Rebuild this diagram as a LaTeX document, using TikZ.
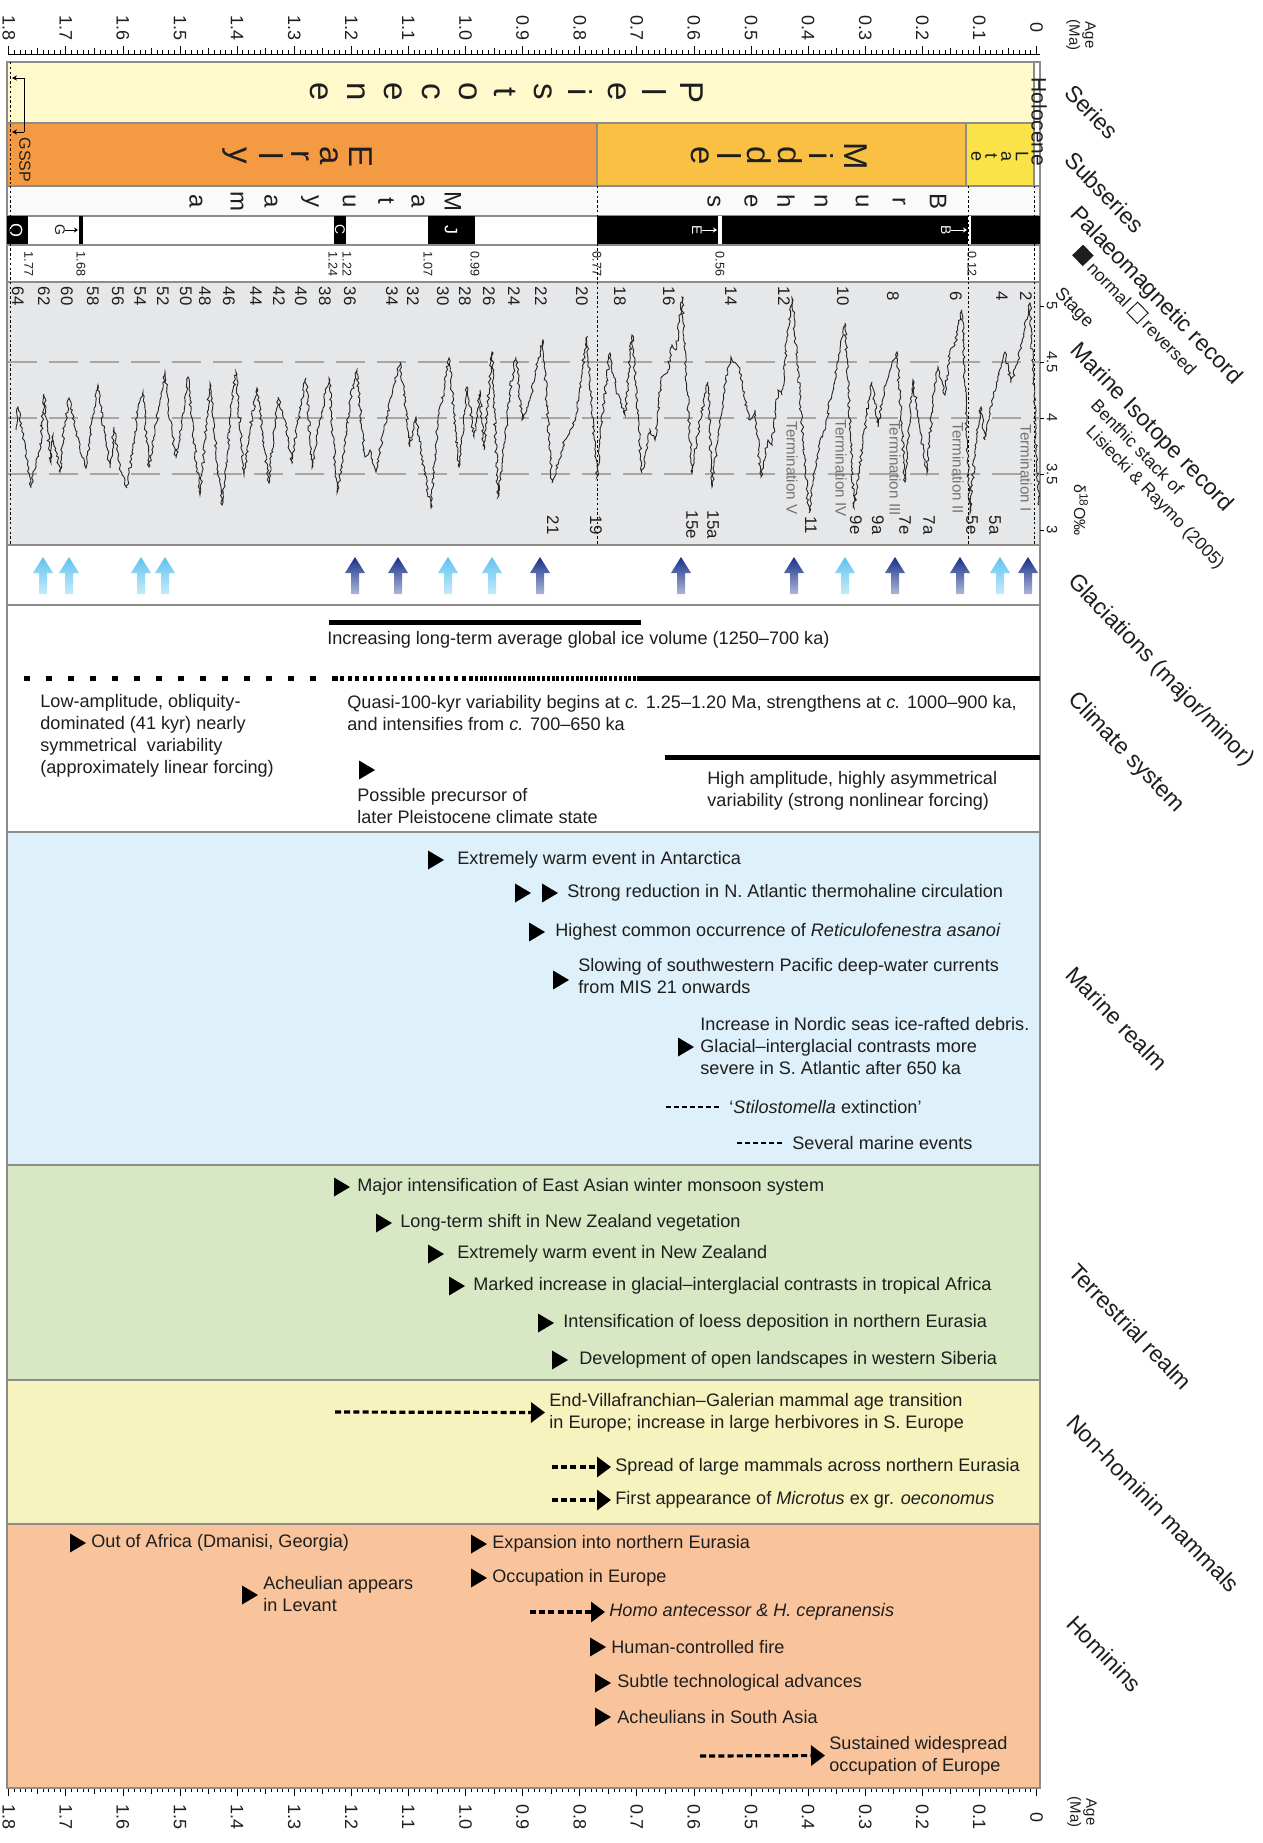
\documentclass[tikz,border=0pt]{standalone}
\usepackage{fontspec}
\setmainfont{Liberation Sans}
\usetikzlibrary{arrows.meta,decorations.pathmorphing}

\definecolor{seriesc}{RGB}{255,249,204}
\definecolor{earlyc}{RGB}{243,154,66}
\definecolor{middlec}{RGB}{250,192,68}
\definecolor{latec}{RGB}{250,226,72}
\definecolor{curvebg}{RGB}{230,231,233}
\definecolor{marinec}{RGB}{222,240,249}
\definecolor{terrc}{RGB}{216,232,196}
\definecolor{mammc}{RGB}{246,243,190}
\definecolor{homc}{RGB}{249,196,156}
\definecolor{glacdark}{RGB}{22,48,140}
\definecolor{glaclight}{RGB}{95,195,240}
\definecolor{framec}{RGB}{140,140,140}
\definecolor{txt}{RGB}{30,30,30}

\begin{document}
\begin{tikzpicture}[x=0.5pt,y=-0.5pt,
  evt/.style={font=\fontsize{9.05}{11}\selectfont, anchor=west, inner sep=0pt, align=left, text=txt},
  band/.style={draw=framec, line width=0.8pt},
  hdr/.style={font=\fontsize{11.5}{13}\selectfont, rotate=-46, anchor=west, inner sep=0pt, text=txt},
  subhdr/.style={font=\fontsize{8.8}{10}\selectfont, rotate=-46, anchor=west, inner sep=0pt, text=txt},
  agelab/.style={font=\fontsize{9}{10}\selectfont, rotate=-90, inner sep=0pt, text=txt},
  stagelab/.style={font=\fontsize{8.4}{9}\selectfont, rotate=-90, inner sep=0pt, text=txt},
  pmlab/.style={font=\fontsize{6.3}{7}\selectfont, rotate=-90, inner sep=0pt, text=txt},
  bigletter/.style={font=\fontsize{16.5}{17}\selectfont, rotate=-90, inner sep=0pt, text=txt},
  midletter/.style={font=\fontsize{12}{13}\selectfont, rotate=-90, inner sep=0pt, text=txt},
  vline/.style={line width=0.4pt, dash pattern=on 1.2pt off 1.2pt},
  dasharrow/.style={line width=1.6pt, dash pattern=on 3pt off 1.6pt, -{Triangle[length=7pt,width=10pt]}, shorten >=2pt},
  dashline/.style={line width=1.3pt, dash pattern=on 2.6pt off 1.4pt, shorten >=4pt},
  pics/mk/.style={code={\fill[black] (0,-9.5) -- (16,0) -- (0,9.5) -- cycle;}},
  pics/glac/.style={code={\shade[top color=#1, bottom color=#1!35] (0,0) -- (10,16) -- (4,16) -- (4,37) -- (-4,37) -- (-4,16) -- (-10,16) -- cycle;}}
]
\useasboundingbox (0,0) rectangle (1263,1843);
\fill[white] (0,0) rectangle (1263,1843);

% ---------- age scales (top and bottom) ----------
\draw[line width=0.5pt] (8,54) -- (1040,54);
\foreach \i in {0,...,180} {
  \pgfmathsetmacro\xx{1036.5-5.71*\i}
  \pgfmathtruncatemacro\m{mod(\i,10)}
  \pgfmathtruncatemacro\h{mod(\i,5)}
  \ifnum\m=0 \def\tl{8}\else\ifnum\h=0 \def\tl{6}\else\def\tl{4}\fi\fi
  \draw[line width=0.4pt] (\xx,54) -- (\xx,54-\tl);
  \draw[line width=0.4pt] (\xx,1788) -- (\xx,1788+\tl);
}
\foreach \k/\t in {0/0,1/0.1,2/0.2,3/0.3,4/0.4,5/0.5,6/0.6,7/0.7,8/0.8,9/0.9,10/1.0,11/1.1,12/1.2,13/1.3,14/1.4,15/1.5,16/1.6,17/1.7,18/1.8} {
  \pgfmathsetmacro\xx{1036.5-57.1*\k}
  \node[agelab] (ta\k) at (\xx,28) {\t};
  \node[agelab] (ba\k) at (\xx,1817) {\t};
}
\node[font=\fontsize{7.5}{8}\selectfont, rotate=-90, align=center, inner sep=0pt, text=txt] (agetop) at (1081,35) {Age\\(Ma)};
\node[font=\fontsize{7.5}{8}\selectfont, rotate=-90, align=center, inner sep=0pt, text=txt] (agebot) at (1082,1812) {Age\\(Ma)};

% ---------- series and subseries ----------
\filldraw[band, fill=seriesc] (7,62) rectangle (1034,123);
\filldraw[band, fill=earlyc] (7,123) rectangle (597,186);
\filldraw[band, fill=middlec] (597,123) rectangle (966,186);
\filldraw[band, fill=latec] (966,123) rectangle (1034,186);
\filldraw[band, fill=white] (1034,62) rectangle (1040,186);
\node[font=\fontsize{10.5}{11}\selectfont, rotate=-90, inner sep=0pt, text=txt] (holo) at (1039,122) {Holocene};

\foreach \c [count=\n from 0] in {P,l,e,i,s,t,o,c,e,n,e} {
  \node[bigletter] (pl\n) at (692-37.3*\n,92) {\c};
}
\foreach \c/\xx [count=\n] in {E/361,a/329,r/300,l/271,y/235} {
  \node[bigletter] (ea\n) at (\xx,156) {\c};
}
\foreach \c/\xx [count=\n] in {M/856,i/821,d/790,d/759,l/729,e/700} {
  \node[bigletter] (mi\n) at (\xx,156) {\c};
}
\foreach \c/\xx [count=\n] in {L/1022,a/1006,t/991,e/976} {
  \node[font=\fontsize{9}{10}\selectfont, rotate=-90, inner sep=0pt, text=txt] (la\n) at (\xx,156) {\c};
}
% GSSP marker
\draw[line width=0.4pt, -{Stealth[length=2.5pt,width=2.5pt]}] (24,78) -- (12,78);
\draw[line width=0.4pt] (24,78) -- (24,132);
\draw[line width=0.4pt, -{Stealth[length=2.5pt,width=2.5pt]}] (24,132) -- (12,132);
\node[font=\fontsize{8}{9}\selectfont, rotate=-90, inner sep=0pt, text=txt] (gssp) at (25,160) {GSSP};

% ---------- chrons ----------
\filldraw[band, fill=black!2] (7,186) rectangle (1040,216);
\foreach \c/\xx [count=\n] in {M/453,a/418,t/386,u/349,y/310,a/271,m/237,a/196} {
  \node[midletter] (ma\n) at (\xx,201) {\c};
}
\foreach \c/\xx [count=\n] in {B/938,r/899,u/862,n/821,h/786,e/751,s/714} {
  \node[midletter] (br\n) at (\xx,201) {\c};
}

% ---------- palaeomagnetic record ----------
\filldraw[band, fill=white] (7,216) rectangle (1040,245);
\fill[black] (7,216) rectangle (28,245);
\fill[black] (79,216) rectangle (83,245);
\fill[black] (334,216) rectangle (346,245);
\fill[black] (428,216) rectangle (475,245);
\fill[black] (597,216) rectangle (1040,245);
\fill[white] (718,216) rectangle (722,245);
\fill[white] (968,216) rectangle (971,245);
\node[font=\fontsize{9}{10}\selectfont, rotate=-90, inner sep=0pt, text=white] (chO) at (16,230) {O};
\node[font=\fontsize{7}{8}\selectfont, rotate=-90, inner sep=0pt, text=white] (chC) at (340,230) {C};
\node[font=\fontsize{9}{10}\selectfont, rotate=-90, inner sep=0pt, text=white] (chJ) at (451,230) {J};
\node[font=\fontsize{7}{8}\selectfont, rotate=-90, inner sep=0pt, text=txt] (chG) at (60,230) {G};
\node[font=\fontsize{7}{8}\selectfont, rotate=-90, inner sep=0pt, text=white] (chE) at (697,230) {E};
\node[font=\fontsize{7}{8}\selectfont, rotate=-90, inner sep=0pt, text=white] (chB) at (946,230) {B};
\coordinate (gG) at (78,230);
\coordinate (gE) at (717,230);
\coordinate (gB) at (967,230);
\draw[line width=0.4pt, -{Stealth[length=2pt,width=2.5pt]}] (chG) ++(5,0) -- (gG);
\draw[white, line width=0.4pt, -{Stealth[length=2pt,width=2.5pt]}] (chE) ++(5,0) -- (gE);
\draw[white, line width=0.4pt, -{Stealth[length=2pt,width=2.5pt]}] (chB) ++(5,0) -- (gB);

\draw[band] (7,245) rectangle (1040,282);
\foreach \t/\xx [count=\n] in {1.77/28.6,1.68/81,1.24/333,1.22/347,1.07/428,0.99/475,0.77/597,0.56/720,0.12/972} {
  \node[pmlab] (pm\n) at (\xx,264) {\t};
}

% ---------- marine isotope record ----------
\filldraw[band, fill=curvebg] (7,282) rectangle (1040,545);
\foreach \yy in {362,418,474} {
  \draw[black!35, line width=1.2pt, dash pattern=on 14.25pt off 6.25pt] (8,\yy) -- (1040,\yy);
}
\foreach \v/\yy in {5/306,4.5/362,4/418,3.5/474,3/530} {
  \draw[line width=0.4pt] (1040,\yy) -- (1044,\yy);
  \node[font=\fontsize{7.5}{8}\selectfont, rotate=-90, inner sep=0pt, text=txt] (iso\v) at (1052,\yy) {\v};
}
\node[font=\fontsize{8}{9}\selectfont, rotate=-90, inner sep=0pt, text=txt] (delta) at (1081,510) {δ\textsuperscript{18}O‰};

\foreach \xx in {10,597,968,1034} {
  \draw[vline] (\xx,186) -- (\xx,545);
}
\draw[vline] (10,62) -- (10,186);

\foreach \t/\xx [count=\n] in {64/18,62/44,60/67,58/93,56/118,54/140,52/163,50/186,48/205,46/229,44/256,42/279,40/301,38/325,36/350,34/392,32/413,30/443,28/465,26/489,24/514,22/541,20/582,18/620,16/669,14/731,12/784,10/843,8/893,6/956,4/1002,2/1026} {
  \node[stagelab] (st\n) at (\xx,296) {\t};
}
\foreach \t/\xx [count=\n] in {21/553,19/596,15e/692,15a/713,11/811,9e/856,9a/878,7e/905,7a/929,5e/972,5a/995} {
  \node[stagelab] (sb\n) at (\xx,525) {\t};
}
\foreach \t/\xx [count=\n] in {V/792,IV/841,III/895,II/958,I/1026} {
  \node[font=\fontsize{7.6}{8}\selectfont, rotate=-90, inner sep=0pt, text=black!55] (term\n) at (\xx,468) {Termination \t};
}

% benthic oxygen-isotope stack
\pgfmathsetseed{11}
\draw[line width=0.45pt, black!85, decorate, decoration={random steps, segment length=1.3pt, amplitude=0.7pt}]
  plot coordinates {(16,430) (18,407) (24,440) (31,488) (36,460) (40,450) (44,394) (51,463) (53,435) (60,472) (64,430) (69,398) (74,420) (80,450) (86,468) (92,420) (98,385) (104,430) (110,468) (114,427) (120,470) (127,488) (134,440) (138,410) (143,392) (149,467) (155,430) (160,400) (165,372) (170,420) (176,458) (182,420) (188,377) (194,440) (200,495) (205,440) (210,383) (216,450) (222,505) (228,450) (232,400) (236,372) (244,475) (250,430) (257,388) (262,430) (269,483) (274,430) (278,397) (285,420) (292,463) (298,420) (306,378) (312,468) (320,420) (329,378) (337,493) (344,450) (350,400) (357,370) (362,430) (365,457) (370,450) (376,472) (384,430) (392,395) (400,362) (405,400) (410,447) (416,417) (424,470) (431,508) (438,420) (444,390) (449,358) (459,467) (467,387) (474,437) (480,390) (484,450) (492,352) (498,497) (505,440) (510,390) (516,357) (522,420) (530,400) (536,370) (543,340) (552,483) (559,460) (565,440) (570,430) (576,417) (582,370) (587,337) (597,477) (604,400) (610,353) (616,390) (625,415) (632,335) (642,473) (650,430) (655,440) (661,380) (668,370) (672,345) (676,350) (682,297) (692,473) (700,420) (708,382) (712,487) (718,440) (722,410) (727,370) (731,357) (740,370) (745,400) (750,420) (755,410) (761,477) (768,440) (772,445) (778,390) (782,395) (787,340) (792,298) (809,513) (815,470) (820,440) (825,430) (830,400) (835,380) (840,350) (845,323) (854,508) (862,450) (866,420) (872,382) (878,427) (884,390) (890,370) (897,352) (905,482) (913,380) (920,430) (927,473) (933,400) (938,367) (945,395) (950,350) (955,345) (962,310) (970,513) (975,450) (981,407) (985,440) (992,400) (998,380) (1005,352) (1011,383) (1018,360) (1022,340) (1026,320) (1030,303) (1039,505)};

% ---------- glaciations ----------
\draw[band] (7,545) rectangle (1040,605);
\foreach \xx in {43,69,141,165,448,492,845,1000} { \pic at (\xx,557) {glac=glaclight}; }
\foreach \xx in {355,398,540,681,794,895,960,1028} { \pic at (\xx,557) {glac=glacdark}; }

% ---------- climate system ----------
\draw[band] (7,605) rectangle (1040,832);
\draw[line width=2.5pt] (329,622) -- (641,622);
\node[evt] (ice) at (327,640) {Increasing long-term average global ice volume (1250–700 ka)};
\draw[line width=2.5pt, dash pattern=on 2.8pt off 8.2pt] (24,678) -- (340,678);
\draw[line width=2.5pt, dash pattern=on 2pt off 1.8pt] (340,678) -- (470,678);
\draw[line width=2.5pt, dash pattern=on 1.5pt off 0.9pt] (470,678) -- (637,678);
\draw[line width=2.5pt] (637,678) -- (1040,678);
\node[evt] (lowamp) at (40,736) {Low-amplitude, obliquity-\\dominated (41 kyr) nearly\\symmetrical\ \ variability\\(approximately linear forcing)};
\node[evt] (quasi) at (347,713.5) {Quasi-100-kyr variability begins at \textit{c.} 1.25–1.20 Ma, strengthens at \textit{c.} 1000–900 ka,\\and intensifies from \textit{c.} 700–650 ka};
\pic at (359,770) {mk};
\node[evt] (prec) at (357,806.5) {Possible precursor of\\later Pleistocene climate state};
\draw[line width=2.5pt] (665,757) -- (1040,757);
\node[evt] (highamp) at (707,790.5) {High amplitude, highly asymmetrical\\variability (strong nonlinear forcing)};

% ---------- marine realm ----------
\filldraw[band, fill=marinec] (7,832) rectangle (1040,1165);
\pic at (428,860) {mk};
\node[evt] (m1) at (457,860) {Extremely warm event in Antarctica};
\pic at (515,893) {mk}; \pic at (542,893) {mk};
\node[evt] (m2) at (567,893) {Strong reduction in N. Atlantic thermohaline circulation};
\pic at (529,932) {mk};
\node[evt] (m3) at (555,932) {Highest common occurrence of \textit{Reticulofenestra asanoi}};
\pic at (553,980) {mk};
\node[evt] (m4) at (578,976.5) {Slowing of southwestern Pacific deep-water currents\\from MIS 21 onwards};
\pic at (678,1047) {mk};
\node[evt] (m5) at (700,1046) {Increase in Nordic seas ice-rafted debris.\\Glacial–interglacial contrasts more\\severe in S. Atlantic after 650 ka};
\coordinate (m6s) at (666,1107);
\node[evt] (m6) at (729,1107) {‘\textit{Stilostomella} extinction’};
\draw[dashline] (m6s) -- (m6.west);
\coordinate (m7s) at (737,1143);
\node[evt] (m7) at (792,1143) {Several marine events};
\draw[dashline] (m7s) -- (m7.west);

% ---------- terrestrial realm ----------
\filldraw[band, fill=terrc] (7,1165) rectangle (1040,1380);
\pic at (334,1187) {mk};
\node[evt] (t1) at (357,1187) {Major intensification of East Asian winter monsoon system};
\pic at (376,1223) {mk};
\node[evt] (t2) at (400,1223) {Long-term shift in New Zealand vegetation};
\pic at (428,1254) {mk};
\node[evt] (t3) at (457,1254) {Extremely warm event in New Zealand};
\pic at (449,1286) {mk};
\node[evt] (t4) at (473,1286) {Marked increase in glacial–interglacial contrasts in tropical Africa};
\pic at (538,1323) {mk};
\node[evt] (t5) at (563,1323) {Intensification of loess deposition in northern Eurasia};
\pic at (552,1360) {mk};
\node[evt] (t6) at (579,1360) {Development of open landscapes in western Siberia};

% ---------- non-hominin mammals ----------
\filldraw[band, fill=mammc] (7,1380) rectangle (1040,1524);
\coordinate (n1s) at (335,1412);
\node[evt] (n1) at (549,1412.5) {End-Villafranchian–Galerian mammal age transition\\in Europe; increase in large herbivores in S. Europe};
\draw[dasharrow] (n1s) -- (n1.west);
\coordinate (n2s) at (552,1467);
\node[evt] (n2) at (615,1467) {Spread of large mammals across northern Eurasia};
\draw[dasharrow] (n2s) -- (n2.west);
\coordinate (n3s) at (552,1500);
\node[evt] (n3) at (615,1500) {First appearance of \textit{Microtus} ex gr. \textit{oeconomus}};
\draw[dasharrow] (n3s) -- (n3.west);

% ---------- hominins ----------
\filldraw[band, fill=homc] (7,1524) rectangle (1040,1788);
\pic at (70,1543) {mk};
\node[evt] (h1) at (91,1543) {Out of Africa (Dmanisi, Georgia)};
\pic at (242,1595) {mk};
\node[evt] (h2) at (263,1594) {Acheulian appears\\in Levant};
\pic at (471,1544) {mk};
\node[evt] (h3) at (492,1544) {Expansion into northern Eurasia};
\pic at (471,1578) {mk};
\node[evt] (h4) at (492,1578) {Occupation in Europe};
\coordinate (h5s) at (530,1612);
\node[evt] (h5) at (609,1612) {\textit{Homo antecessor \& H. cepranensis}};
\draw[dasharrow] (h5s) -- (h5.west);
\pic at (590,1647) {mk};
\node[evt] (h6) at (611,1647) {Human-controlled fire};
\pic at (595,1683) {mk};
\node[evt] (h7) at (617,1683) {Subtle technological advances};
\pic at (595,1717) {mk};
\node[evt] (h8) at (617,1717) {Acheulians in South Asia};
\coordinate (h9s) at (700,1756);
\node[evt] (h9) at (829,1755.5) {Sustained widespread\\occupation of Europe};
\draw[dasharrow] (h9s) -- (h9.west);

% ---------- row headings ----------
\node[hdr] (hSeries) at (1069,88) {Series};
\node[hdr] (hSub) at (1069,155) {Subseries};
\node[hdr] (hPal) at (1073,211) {Palaeomagnetic record};
\node[subhdr] (hNorm) at (1077,250) {\rule{7.6pt}{7.6pt}\ normal\ {\setlength{\fboxsep}{0pt}\setlength{\fboxrule}{0.5pt}\fbox{\rule{0pt}{7pt}\rule{7pt}{0pt}}}\ reversed};
\node[font=\fontsize{9}{10}\selectfont, rotate=-46, anchor=west, inner sep=0pt, text=txt] (hStage) at (1057,291) {Stage};
\node[hdr] (hIso) at (1073,347) {Marine Isotope record};
\node[subhdr] (hBen) at (1094,402) {Benthic stack of};
\node[subhdr] (hLis) at (1088,429) {Lisiecki \& Raymo (2005)};
\node[hdr] (hGla) at (1071,578) {Glaciations (major/minor)};
\node[hdr] (hCli) at (1071,696) {Climate system};
\node[hdr] (hMar) at (1070,970) {Marine realm};
\node[hdr] (hTer) at (1073,1267) {Terrestrial realm};
\node[hdr] (hNon) at (1071,1418) {Non-hominin mammals};
\node[hdr] (hHom) at (1071,1619) {Hominins};
\end{tikzpicture}
\end{document}
